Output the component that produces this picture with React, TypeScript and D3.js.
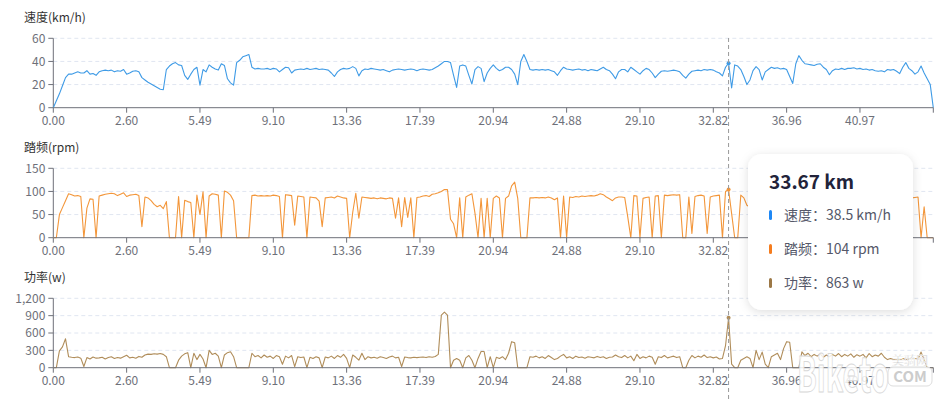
import React from "react";
import * as d3 from "d3";

const xTickLabels = ["0.00", "2.60", "5.49", "9.10", "13.36", "17.39", "20.94", "24.88", "29.10", "32.82", "36.96", "40.97"];
const pointsPerTick = 24;
const hoverIndex = 221;
const hoverLabel = "33.67 km";

const speed = [
  0,6,12,19,26,29,29,30,31,30,
  30,32,29,29.5,28,31,32,32.5,32,32.5,
  31,32,31.5,33,29,30,31.5,32,31,26,
  24,22,20.5,19,17.5,16,15.5,33,36,38,
  39,37,36.5,28,24.5,29,33,35,19.5,33,
  31,37,35,33.5,32.5,38,36.5,25,21.5,19.5,
  39,41,44,45,46,35,33.5,34,33.5,33.5,
  34,33,34,33.5,31,33,35,34.5,30,32.5,
  33,33.5,33,34,33,33.5,34,33,33.5,33,
  32.5,30,27,31,33,34,33.5,34,35.5,34,
  27.5,32,33.5,33,34,33.5,33,32.5,33,32,
  31,32.5,33,33.5,33,32.5,33,33.5,33,32,
  33,33.5,33,32.5,33,34.5,36,38,40,40,
  39,28,17.5,36,37,36,28,20.5,33,35.5,
  34,22.5,30,34,37,34,32,33,35,35,
  33,29,20,40,46,40,33,32.5,33,32.5,
  33,32.5,33,32,31,28,32,35,33.5,33,
  32.5,33,33.5,32.5,33,32,33,32.5,32,33.5,
  35,33,32,29,25,31,33,33,31,35,
  33,31,29,32,34,33,30,26,29,31.5,
  32,31.5,32,32.5,32,31,28,25.5,29,31.5,
  32,32.5,32,33,32.5,33,32.5,31,30,27.5,
  35,38.5,17,37,36,33,27,20,24,32,
  35.5,33,24,31,33,35,34,34.5,33.5,34,
  33,27,21,38,45,41,38,37.5,37,36.5,
  37.5,38,35,33,28.5,32,33.5,33,34,33,
  34,34,34.5,33.5,34,33,33.5,32.5,33,32,
  31.5,32,31,33,32.5,33,31.5,29.5,35,39,
  34,32,29,31,36,30,25,20,0,
];

const cadence = [
  0,0,50,65,80,95,93,90,91,89,
  0,64,84,83,0,90,92,94,95,96,
  95,91,94,97,89,92,93,94,91,24,
  88,86,80,72,67,70,63,78,0,0,
  0,89,0,81,78,76,0,92,50,99,
  0,90,95,94,92,0,101,98,92,80,
  0,0,0,0,0,91,92,90,91,90,
  91,90,92,91,89,0,93,92,91,27,
  90,89,88,0,88,87,86,79,24,86,
  87,88,86,90,88,86,85,0,55,96,
  42,88,87,86,85,86,84,86,85,84,
  86,85,42,86,24,87,44,86,0,87,
  88,90,91,89,94,95,97,100,104,104,
  40,30,0,86,0,88,92,95,53,0,
  85,0,85,0,85,90,86,0,85,90,
  112,120,85,0,0,0,86,86,87,86,
  87,86,88,86,82,86,0,90,0,88,
  87,89,88,90,89,90,91,90,92,95,
  93,88,84,80,86,88,88,87,45,0,
  91,90,0,85,87,88,0,90,91,0,
  92,91,92,93,92,93,0,0,88,9,
  89,91,92,90,9,88,90,91,92,0,
  100,104,52,0,0,92,86,70,66,75,
  80,85,88,0,86,89,90,88,0,87,
  89,90,91,0,92,93,90,88,89,0,
  90,91,89,88,90,0,87,89,90,91,
  88,0,89,90,91,89,88,90,0,89,
  90,91,88,89,90,87,0,88,89,90,
  88,86,87,88,0,67,0,0,0,
];

const power = [
  0,0,290,360,500,190,180,175,185,165,
  20,175,150,185,165,170,180,150,175,190,
  160,175,165,190,215,170,180,165,195,180,
  220,235,230,240,235,245,230,190,0,0,
  0,130,200,240,260,0,250,140,230,150,
  0,300,230,250,200,0,220,260,275,190,
  0,0,0,0,0,250,190,210,170,220,
  180,200,160,210,190,60,200,170,210,20,
  190,175,185,0,180,160,190,170,0,185,
  170,200,160,210,180,230,160,0,220,180,
  130,250,140,190,170,180,165,190,175,160,
  185,200,170,180,20,185,175,170,180,175,
  180,185,175,190,180,195,230,910,960,910,
  0,130,160,130,0,170,210,130,0,160,
  280,280,0,190,0,180,160,190,140,250,
  450,430,0,0,0,0,190,180,200,170,
  190,160,210,175,140,160,200,230,170,190,
  160,200,175,185,165,190,180,170,195,175,
  190,160,180,185,220,190,175,210,170,200,
  120,230,160,190,170,200,180,60,190,175,
  210,170,185,200,175,190,0,0,130,210,
  170,200,180,220,175,190,170,185,150,160,
  380,863,60,0,0,130,160,190,160,0,
  300,140,270,60,0,190,220,250,140,330,
  450,440,0,0,0,275,210,250,190,230,
  200,240,180,220,190,230,200,245,190,230,
  200,240,180,225,200,230,170,245,190,220,
  200,250,180,140,160,140,150,130,160,140,
  150,140,160,150,270,140,0,0,0,
];

const speedTicks = [0, 20, 40, 60];
const cadenceTicks = [0, 50, 100, 150];
const powerTicks = [0, 300, 600, 900, 1200];

const panels = [
  { title: "速度(km/h)", data: speed, ticks: speedTicks, color: "#3f9be6", dot: "#1e88f5", name: "速度", unit: "km/h" },
  { title: "踏频(rpm)", data: cadence, ticks: cadenceTicks, color: "#f3963a", dot: "#f57c1e", name: "踏频", unit: "rpm" },
  { title: "功率(w)", data: power, ticks: powerTicks, color: "#b08d5a", dot: "#9c7846", name: "功率", unit: "w" },
];

const FONT = "'Noto Sans CJK SC', 'Noto Sans', sans-serif";
const AXIS = "#6E7079";
const GRID = "#E0E6F1";

export default function App() {
  const W = 950, H = 399;
  const left = 53.3, right = 933.3;
  const nPts = speed.length;
  const x = d3.scaleLinear().domain([0, nPts - 1]).range([left, right]);
  const tickIdx = d3.range(0, nPts, pointsPerTick);
  const fmt = d3.format(",");
  const hx = x(hoverIndex);

  return (
    <svg width={W} height={H} style={{ position: "absolute", left: 0, top: 0, display: "block" }} fontFamily={FONT}>
      <defs>
        <filter id="tipShadow" x="-20%" y="-20%" width="140%" height="140%">
          <feDropShadow dx="0" dy="2" stdDeviation="5" floodColor="#000" floodOpacity="0.13" />
        </filter>
      </defs>
      <rect width={W} height={H} fill="#fff" />
      {panels.map((p, pi) => {
        const o = pi * 130;
        const max = p.ticks[p.ticks.length - 1];
        const y = d3.scaleLinear().domain([0, max]).range([o + 107.7, o + 38.3]);
        const line = d3.line<number>().x((_, i) => x(i)).y((v) => y(v));
        return (
          <g key={pi}>
            <text x={24} y={o + 22} fontSize={12} fill="#333">{p.title}</text>
            {p.ticks.filter((t) => t > 0).map((t) => (
              <line key={t} x1={left} x2={right} y1={y(t)} y2={y(t)} stroke={GRID} strokeDasharray="4 3" />
            ))}
            <line x1={left} x2={left} y1={y(max)} y2={y(0)} stroke={AXIS} />
            {p.ticks.map((t) => (
              <g key={t}>
                <line x1={left - 5} x2={left} y1={y(t)} y2={y(t)} stroke={AXIS} />
                <text x={left - 8} y={y(t)} dy="0.35em" textAnchor="end" fontSize={12} fill={AXIS}>{fmt(t)}</text>
              </g>
            ))}
            <path d={line(p.data) || ""} fill="none" stroke={p.color} strokeWidth={1.1} strokeLinejoin="round" />
            <line x1={left} x2={right} y1={y(0)} y2={y(0)} stroke={AXIS} />
            {tickIdx.map((ti, k) => (
              <g key={ti}>
                <line x1={x(ti)} x2={x(ti)} y1={y(0)} y2={y(0) + 5} stroke={AXIS} />
                {xTickLabels[k] !== undefined && (
                  <text x={x(ti)} y={y(0) + 17} textAnchor="middle" fontSize={12} fill={AXIS}>{xTickLabels[k]}</text>
                )}
              </g>
            ))}
            <circle cx={hx} cy={y(p.data[hoverIndex])} r={2} fill={p.color} />
          </g>
        );
      })}
      <line x1={hx} x2={hx} y1={38} y2={399} stroke="#999" strokeDasharray="4 3" strokeWidth={1} />

      {/* watermark */}
      <g>
        <text x={797} y={392} fontSize={48} fontWeight="bold" textLength={92} lengthAdjust="spacingAndGlyphs"
          fill="#fff" fillOpacity={0.85} stroke="#d8d8d8" strokeWidth={1}>Biketo</text>
        <text x={910} y={365} fontSize={12} textAnchor="middle" fill="#bbb" stroke="#fff" strokeWidth={0.4}>美骑网</text>
        <rect x={888} y={367} width={44} height={19} rx={5} fill="#fff" fillOpacity={0.85} stroke="#ddd" />
        <text x={910} y={382} fontSize={15} fontWeight="bold" textAnchor="middle" fill="#ccc">COM</text>
      </g>

      {/* tooltip */}
      <g>
        <rect x={748} y={154} width={165} height={156} rx={14} fill="#fff" filter="url(#tipShadow)" />
        <text x={769} y={189} fontSize={19} fontWeight={600} fill="#22233a">{hoverLabel}</text>
        {panels.map((p, k) => {
          const cy = 215 + k * 34;
          return (
            <g key={k}>
              <rect x={769} y={cy - 5} width={3} height={10} rx={1.5} fill={p.dot} />
              <text x={784} y={cy} dy="0.35em" fontSize={14} fill="#555869">
                {p.name}：{p.data[hoverIndex]} {p.unit}
              </text>
            </g>
          );
        })}
      </g>
    </svg>
  );
}
